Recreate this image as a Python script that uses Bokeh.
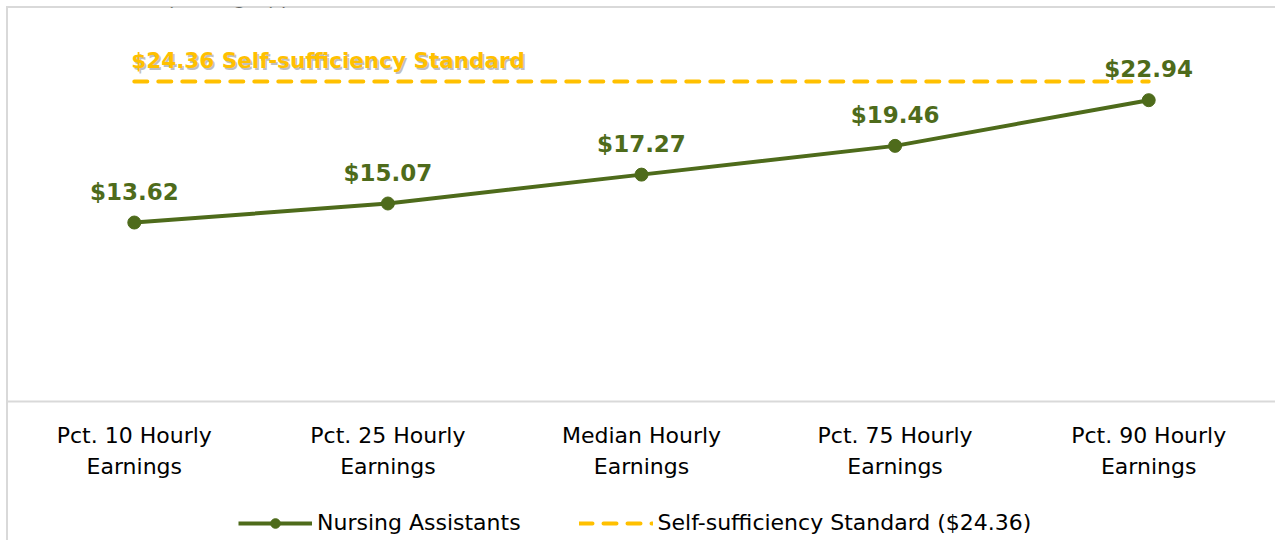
from bokeh.plotting import figure
from bokeh.models import (FactorRange, Range1d, Label, Legend, LegendItem, ColumnDataSource,
                          CategoricalAxis, CustomJSTickFormatter)
from bokeh.core.properties import value
from bokeh.embed import file_html
from bokeh.resources import INLINE

# ---- data ----
categories = ["Pct. 10 Hourly Earnings", "Pct. 25 Hourly Earnings", "Median Hourly Earnings",
              "Pct. 75 Hourly Earnings", "Pct. 90 Hourly Earnings"]
tick_line1 = ["Pct. 10 Hourly", "Pct. 25 Hourly", "Median Hourly", "Pct. 75 Hourly", "Pct. 90 Hourly"]
tick_line2 = ["Earnings", "Earnings", "Earnings", "Earnings", "Earnings"]
earnings = [13.62, 15.07, 17.27, 19.46, 22.94]
earning_labels = ["$13.62", "$15.07", "$17.27", "$19.46", "$22.94"]
standard_value = 24.36
standard_label = "$24.36 Self-sufficiency Standard"
series_names = ["Nursing Assistants", "Self-sufficiency Standard ($24.36)"]
title_text = "Median hourly earnings by percentile"

GREEN = "#4E6B1B"
GOLD = "#FFC000"
FONT = "DejaVu Sans"
BOLD_FONT = "DejaVu Sans"

src = ColumnDataSource(dict(x=categories, y=earnings, lab=earning_labels))
std_src = ColumnDataSource(dict(x=categories, y=[standard_value] * len(categories)))

p = figure(width=1275, height=540, output_backend="svg", toolbar_location=None,
           x_range=FactorRange(factors=categories, start=0.005, end=4.987),
           y_range=Range1d(-10.6, 30),
           x_axis_location=None, y_axis_location=None,
           min_border_left=7, min_border_right=0, min_border_top=7, min_border_bottom=0)

p.background_fill_alpha = 0
p.border_fill_alpha = 0
p.outline_line_color = None
p.styles = {
    "background": "linear-gradient(#d9d9d9,#d9d9d9) 6px 6px / 2px 100% no-repeat, "
                  "linear-gradient(#d9d9d9,#d9d9d9) 6px 6px / 100% 2px no-repeat, white"
}
p.xgrid.grid_line_color = None
p.ygrid.grid_line_color = None


def make_axis(lines, standoff, show_line):
    ax = CategoricalAxis(fixed_location=0)
    ax.formatter = CustomJSTickFormatter(args=dict(names=categories, labels=lines),
                                         code="return labels[names.indexOf(tick)]")
    ax.axis_line_color = "#d9d9d9" if show_line else None
    ax.axis_line_width = 2
    ax.major_tick_line_color = None
    ax.minor_tick_line_color = None
    ax.major_label_standoff = standoff
    ax.major_label_text_font = FONT
    ax.major_label_text_font_size = "22px"
    ax.major_label_text_color = "#000000"
    return ax


p.add_layout(make_axis(tick_line1, 16, True), "below")
p.add_layout(make_axis(tick_line2, 47, False), "below")

# self-sufficiency standard
std_line = p.line("x", "y", source=std_src, line_color=GOLD, line_width=4,
                  line_dash="13 11", line_cap="round")
p.text(x=[categories[0]], y=[standard_value], text=[standard_label],
       x_offset=-1.5, y_offset=-19.5, text_font=value(BOLD_FONT), text_font_style="bold",
       text_font_size="21.5px", text_color="#7f7f7f", text_alpha=0.5, text_baseline="alphabetic")
p.text(x=[categories[0]], y=[standard_value], text=[standard_label],
       x_offset=-3, y_offset=-21, text_font=value(BOLD_FONT), text_font_style="bold",
       text_font_size="21.5px", text_color=GOLD, text_baseline="alphabetic")

# nursing assistants
na_line = p.line("x", "y", source=src, line_color=GREEN, line_width=4)
na_pts = p.scatter("x", "y", source=src, size=13, fill_color=GREEN, line_color=GREEN)
p.text("x", "y", text="lab", source=src, y_offset=-31, text_align="center",
       text_baseline="alphabetic", text_font=value(BOLD_FONT), text_font_style="bold",
       text_font_size="23px", text_color=GREEN)

legend = Legend(items=[LegendItem(label=series_names[0], renderers=[na_line, na_pts]),
                       LegendItem(label=series_names[1], renderers=[std_line])],
                orientation="horizontal", location=(231, 5), padding=0, margin=0,
                glyph_width=74, glyph_height=24, label_height=24, label_standoff=5, spacing=58,
                label_text_font=FONT, label_text_font_size="22px", label_text_color="#000000",
                border_line_color=None, background_fill_alpha=0)
p.add_layout(legend, "center")

p.add_layout(Label(x=52, y=544, x_units="screen", y_units="screen", text=title_text,
                   text_font="Lato", text_font_style="italic", text_font_size="20px",
                   text_color="#000000", text_baseline="alphabetic"))

open("out.html", "w").write(file_html(p, INLINE))
